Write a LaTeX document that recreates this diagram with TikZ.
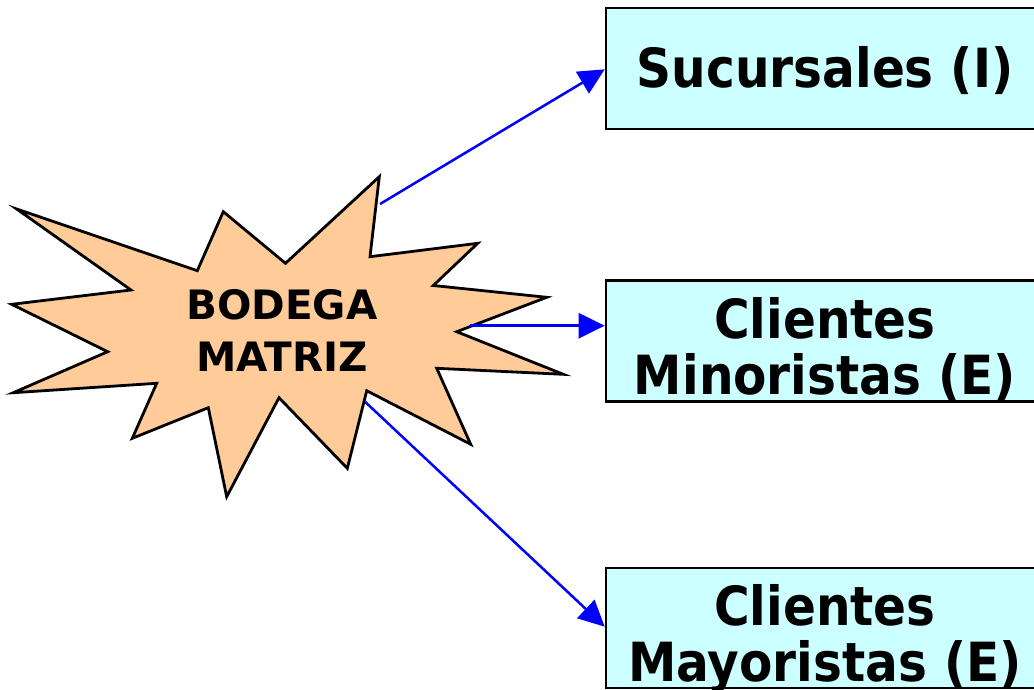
\documentclass[tikz,border=0pt]{standalone}
\usepackage{fontspec}
\setmainfont{DejaVu Sans}
\newfontfamily\boxfont[FakeStretch=0.9]{DejaVu Sans}
\usetikzlibrary{arrows.meta}
\definecolor{peach}{HTML}{FFCC99}
\definecolor{paleaqua}{HTML}{CCFFFF}
\definecolor{linkblue}{HTML}{0000FF}
\tikzset{
  burst/.style={draw=black, line width=2.8pt, fill=peach, line join=miter},
  destbox/.style={draw=black, line width=2.6pt, fill=paleaqua, minimum width=438pt,
    minimum height=121pt, inner sep=0pt, align=center,
    font=\boxfont\bfseries\fontsize{54}{56}\selectfont},
  link/.style={draw=linkblue, line width=2.5pt,
    -{Triangle[length=26pt,width=25pt]}}
}
\begin{document}
\begin{tikzpicture}[x=1pt,y=-1pt]
  \clip (0,0) rectangle (1034,689);
  % starburst for the main warehouse
  \draw[burst] (16.7,209) -- (197.3,270.7) -- (223.3,211.7) -- (285.5,263.3)
    -- (379.3,176.7) -- (370,256.7) -- (477.7,243.3) -- (433.3,285.5)
    -- (546.7,297.3) -- (456.7,331.7) -- (563.3,374.3) -- (436.7,368.3)
    -- (470.7,444.3) -- (366.7,390.7) -- (347.3,468.3) -- (279,397.7)
    -- (226.7,496.7) -- (208.3,407.7) -- (132.3,438.3) -- (156.7,383.3)
    -- (13.3,392.7) -- (107.7,351.7) -- (11.7,304.3) -- (131,290) -- cycle;
  \node[anchor=base, align=center, inner sep=0pt,
        font=\bfseries\fontsize{40.5}{52}\selectfont] (matriz) at (282,371)
        {BODEGA\hspace{0.35em}\\MATRIZ};
  % arrow start points on the burst outline
  \coordinate (s1) at (380,204);
  \coordinate (s2) at (470,325.7);
  \coordinate (s3) at (365,401.7);
  % destination boxes
  \node[destbox, text height=49.6pt, text depth=12pt] (suc) at (825,68.5)
        {Sucursales (I)};
  \node[destbox, text height=112pt, text depth=6pt] (mino) at (825,341)
        {Clientes\\Minoristas (E)};
  \node[destbox, minimum height=120pt, text height=112pt, text depth=6pt] (mayo)
        at (825,628) {Clientes\\Mayoristas (E)};
  % distribution links
  \draw[link] (s1) -- (suc.west |- 0,69.3);
  \draw[link] (s2) -- (mino.west |- s2);
  \draw[link] (s3) -- (mayo.west |- 0,626.7);
\end{tikzpicture}
\end{document}
